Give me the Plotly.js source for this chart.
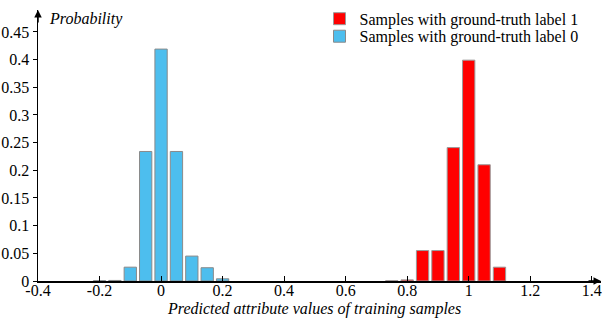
<!DOCTYPE html>
<html>
<head>
<meta charset="utf-8">
<script src="https://cdn.plot.ly/plotly-3.0.1.min.js"></script>
<style>html,body{margin:0;padding:0;background:#fff;}#chart{width:603px;height:326px;}</style>
</head>
<body>
<div id="chart"></div>
<script>
// Data
var label0Centers = [-0.2, -0.15, -0.1, -0.05, 0, 0.05, 0.1, 0.15, 0.2];
var label0Prob    = [0.0005, 0.001, 0.025, 0.234, 0.419, 0.234, 0.045, 0.024, 0.004];
var label1Centers = [0.75, 0.8, 0.85, 0.9, 0.95, 1.0, 1.05, 1.1];
var label1Prob    = [0.0005, 0.002, 0.055, 0.055, 0.241, 0.399, 0.21, 0.025];
var seriesNames = ['Samples with ground-truth label 1', 'Samples with ground-truth label 0'];
var xTickVals = [-0.4, -0.2, 0, 0.2, 0.4, 0.6, 0.8, 1, 1.2, 1.4];
var xTickText = ['-0.4', '-0.2', '0', '0.2', '0.4', '0.6', '0.8', '1', '1.2', '1.4'];
var yTickVals = [0, 0.05, 0.1, 0.15, 0.2, 0.25, 0.3, 0.35, 0.4, 0.45];
var yTickText = ['0', '0.05', '0.1', '0.15', '0.2', '0.25', '0.3', '0.35', '0.4', '0.45'];
var xTitle = 'Predicted attribute values of training samples';
var yTitle = 'Probability';

var FONT = 'Times New Roman, DejaVu Serif, serif';

var traces = [
  {
    type: 'bar', name: seriesNames[0], x: label1Centers, y: label1Prob, width: 0.04,
    legend: 'legend',
    marker: {color: '#FF0000', line: {color: '#9a9a9a', width: 1}}
  },
  {
    type: 'bar', name: seriesNames[1], x: label0Centers, y: label0Prob, width: 0.04,
    legend: 'legend2',
    marker: {color: '#4DBEEE', line: {color: '#8a8a8a', width: 1}}
  }
];

var legendFont = {family: FONT, size: 16, color: '#000'};

var layout = {
  width: 603, height: 326,
  margin: {l: 38, r: 2, t: 3, b: 45},
  paper_bgcolor: '#fff', plot_bgcolor: '#fff',
  barmode: 'overlay',
  showlegend: true,
  font: {family: FONT, size: 16, color: '#000'},
  legend: {
    x: 0.5, xanchor: 'left', y: 0.9676, yanchor: 'middle',
    bgcolor: 'rgba(0,0,0,0)', font: legendFont, itemwidth: 30
  },
  legend2: {
    x: 0.5, xanchor: 'left', y: 0.9029, yanchor: 'middle',
    bgcolor: 'rgba(0,0,0,0)', font: legendFont, itemwidth: 30
  },
  xaxis: {
    range: [-0.4, 1.43], showgrid: false, zeroline: false,
    showline: true, linecolor: '#000', linewidth: 1.5,
    ticks: 'inside', ticklen: 5, tickwidth: 1, tickcolor: '#000',
    tickmode: 'array', tickvals: xTickVals, ticktext: xTickText,
    tickfont: {family: FONT, size: 16, color: '#000'}, ticklabelstandoff: -6
  },
  yaxis: {
    range: [0, 0.4896], showgrid: false, zeroline: false,
    showline: true, linecolor: '#000', linewidth: 1.5,
    ticks: 'outside', ticklen: 4, tickwidth: 1, tickcolor: '#000',
    tickmode: 'array', tickvals: yTickVals, ticktext: yTickText,
    tickfont: {family: FONT, size: 16, color: '#000'}, ticklabelstandoff: 0
  },
  annotations: [
    {xref: 'paper', yref: 'paper', x: 1, y: 0, ax: -14, ay: 0, axref: 'pixel', ayref: 'pixel',
     text: '', showarrow: true, arrowhead: 2, arrowsize: 1, arrowwidth: 1.5, arrowcolor: '#000'},
    {xref: 'paper', yref: 'paper', x: 0, y: 1, ax: 0, ay: 14, axref: 'pixel', ayref: 'pixel',
     text: '', showarrow: true, arrowhead: 2, arrowsize: 1, arrowwidth: 1.5, arrowcolor: '#000'},
    {xref: 'paper', yref: 'paper', x: 0.016, y: 0.965, xanchor: 'left', yanchor: 'middle',
     text: '<i>' + yTitle + '</i>', showarrow: false, font: {family: FONT, size: 16, color: '#000'}},
    {xref: 'paper', yref: 'paper', x: 0.49, y: -0.104, xanchor: 'center', yanchor: 'middle',
     text: '<i>' + xTitle + '</i>', showarrow: false, font: {family: FONT, size: 16, color: '#000'}}
  ]
};

Plotly.newPlot('chart', traces, layout, {displayModeBar: false, staticPlot: true});
</script>
</body>
</html>
